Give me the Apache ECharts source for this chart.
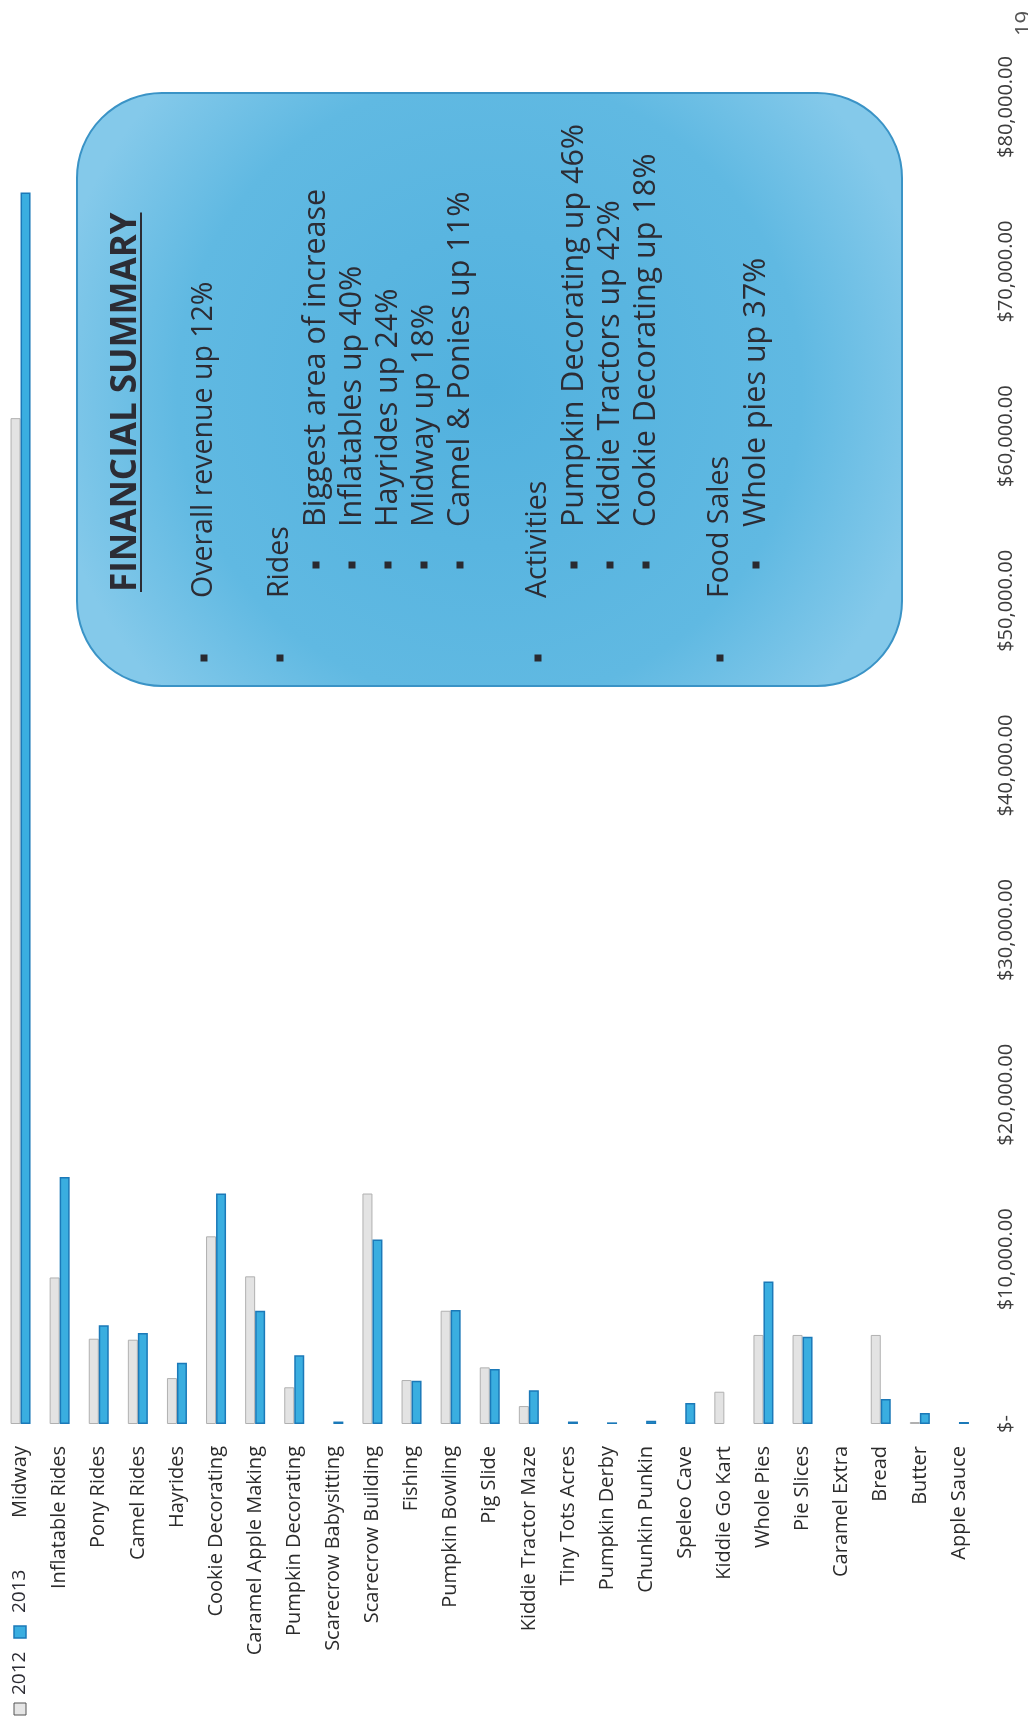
<!DOCTYPE html>
<html>
<head>
<meta charset="utf-8">
<script src="https://cdn.jsdelivr.net/npm/echarts@6/dist/echarts.min.js"></script>
<style>
  html, body { margin: 0; padding: 0; background: #ffffff; }
  #chart { width: 1028px; height: 1720px; }
</style>
</head>
<body>
<div id="chart"></div>
<script>
// Revenue by attraction, 2012 vs 2013
const categories = [
  'Midway', 'Inflatable Rides', 'Pony Rides', 'Camel Rides', 'Hayrides',
  'Cookie Decorating', 'Caramel Apple Making', 'Pumpkin Decorating',
  'Scarecrow Babysitting', 'Scarecrow Building', 'Fishing', 'Pumpkin Bowling',
  'Pig Slide', 'Kiddie Tractor Maze', 'Tiny Tots Acres', 'Pumpkin Derby',
  'Chunkin Punkin', 'Speleo Cave', 'Kiddie Go Kart', 'Whole Pies', 'Pie Slices',
  'Caramel Extra', 'Bread', 'Butter', 'Apple Sauce'
];
const revenue2012 = [
  61100, 8900, 5180, 5120, 2790,
  11400, 8970, 2230,
  0, 14000, 2670, 6880,
  3440, 1090, 0, 0,
  0, 0, 1960, 5410, 5410,
  0, 5410, 120, 0
];
const revenue2013 = [
  74800, 15000, 6000, 5530, 3720,
  14000, 6880, 4170,
  150, 11200, 2630, 6930,
  3340, 2050, 150, 100,
  200, 1280, 0, 8650, 5300,
  0, 1520, 670, 120
];
const seriesNames = ['2012', '2013'];
const valueAxisMin = 0;
const valueAxisMax = 80000;
const valueAxisStep = 10000;

// Summary panel text: [line, indent level]
const summaryTitle = 'FINANCIAL SUMMARY';
const summaryItems = [
  ['Overall revenue up 12%', 0],
  ['Rides', 0],
  ['Biggest area of increase', 1],
  ['Inflatables up 40%', 1],
  ['Hayrides up 24%', 1],
  ['Midway up 18%', 1],
  ['Camel & Ponies up 11%', 1],
  ['Activities', 0],
  ['Pumpkin Decorating up 46%', 1],
  ['Kiddie Tractors up 42%', 1],
  ['Cookie Decorating up 18%', 1],
  ['Food Sales', 0],
  ['Whole pies up 37%', 1]
];
const pageMark = '19';

// ---- layout / styling ----
const FONT = '"Open Sans", "DejaVu Sans", sans-serif';
const TEXT_DARK = '#2c2c34';
const ROT = Math.PI / 2; // text reads bottom-to-top

function moneyLabel(v) {
  if (v === 0) return '$-';
  return '$' + v.toLocaleString('en-US', { minimumFractionDigits: 2, maximumFractionDigits: 2 });
}

function measure(text, font) {
  const c = document.createElement('canvas').getContext('2d');
  c.font = font;
  return c.measureText(text).width;
}

// Summary panel, laid out upright in local coordinates and turned a quarter turn.
const panel = { x: 77, y: 686, w: 593, h: 825, r: 85 };
const rowOffsets = [127, 203, 239, 275, 311, 347, 383, 461, 497, 533, 569, 643, 679];
const indent = [
  { bullet: 28, text: 88, font: '28.5px ' + FONT },
  { bullet: 121, text: 159, font: '30.5px ' + FONT }
];
const titlePos = { u: 94, v: 49 };
const titleFont = 'bold 35px ' + FONT;

const panelChildren = [{
  type: 'rect',
  shape: { x: 0, y: 0, width: panel.w, height: panel.h, r: panel.r },
  style: {
    fill: new echarts.graphic.RadialGradient(0.5, 0.5, 0.75, [
      { offset: 0, color: '#52b1de' },
      { offset: 0.7, color: '#60b9e2' },
      { offset: 1, color: '#84c9ea' }
    ]),
    stroke: '#3a93c6',
    lineWidth: 2
  }
}, {
  type: 'text',
  x: titlePos.u, y: titlePos.v,
  style: {
    text: summaryTitle, font: titleFont, fill: TEXT_DARK,
    textAlign: 'left', textVerticalAlign: 'middle', align: 'left', verticalAlign: 'middle'
  }
}, {
  type: 'line',
  shape: { x1: titlePos.u, y1: titlePos.v + 15, x2: titlePos.u + measure(summaryTitle, titleFont), y2: titlePos.v + 15 },
  style: { stroke: TEXT_DARK, lineWidth: 2 }
}];

summaryItems.forEach(([text, level], i) => {
  const v = rowOffsets[i];
  const ind = indent[level];
  panelChildren.push({
    type: 'rect',
    shape: { x: ind.bullet - 3.5, y: v - 3.5, width: 7, height: 7 },
    style: { fill: '#2a2a30' }
  });
  panelChildren.push({
    type: 'text',
    x: ind.text, y: v,
    style: {
      text: text, font: ind.font, fill: TEXT_DARK,
      textAlign: 'left', textVerticalAlign: 'middle', align: 'left', verticalAlign: 'middle'
    }
  });
});

// Legend, turned the same way as the labels
const legendFont = '19px ' + FONT;
const legendChildren = [
  { type: 'rect', shape: { x: 2, y: -6, width: 12, height: 12 },
    style: { fill: '#e6e6e6', stroke: '#555', lineWidth: 1 } },
  { type: 'text', x: 22, y: 0,
    style: { text: seriesNames[0], font: legendFont, fill: TEXT_DARK,
      textAlign: 'left', textVerticalAlign: 'middle', align: 'left', verticalAlign: 'middle' } },
  { type: 'rect', shape: { x: 79, y: -6, width: 12, height: 12 },
    style: { fill: '#3aaee0', stroke: '#1b79b8', lineWidth: 1.5 } },
  { type: 'text', x: 104, y: 0,
    style: { text: seriesNames[1], font: legendFont, fill: TEXT_DARK,
      textAlign: 'left', textVerticalAlign: 'middle', align: 'left', verticalAlign: 'middle' } }
];

const chart = echarts.init(document.getElementById('chart'), null, { renderer: 'canvas' });

const barData = arr => arr.map(v => (v === 0 ? null : v));

chart.setOption({
  animation: false,
  backgroundColor: '#ffffff',
  grid: { left: 1, right: 49.5, top: 107, bottom: 296, containLabel: false },
  xAxis: {
    type: 'category',
    data: categories,
    axisLine: { show: false },
    axisTick: { show: false },
    axisLabel: {
      rotate: 90, interval: 0, margin: 22,
      fontFamily: FONT, fontSize: 20, color: '#2b2b2b'
    },
    splitLine: { show: false }
  },
  yAxis: {
    type: 'value',
    position: 'right',
    min: valueAxisMin, max: valueAxisMax, interval: valueAxisStep,
    axisLine: { show: false },
    axisTick: { show: false },
    splitLine: { show: false },
    axisLabel: {
      rotate: 90, margin: 18,
      fontFamily: FONT, fontSize: 20, color: '#3c3c3c',
      formatter: moneyLabel
    }
  },
  series: [{
    name: seriesNames[0],
    type: 'bar',
    data: barData(revenue2012),
    barWidth: 10,
    barGap: '0%',
    itemStyle: { color: '#e3e3e3', borderColor: '#b0b0b0', borderWidth: 1 }
  }, {
    name: seriesNames[1],
    type: 'bar',
    data: barData(revenue2013),
    barWidth: 10,
    barGap: '0%',
    itemStyle: { color: '#3aaee0', borderColor: '#1b79b8', borderWidth: 1.5 }
  }],
  graphic: [{
    type: 'group',
    x: panel.x, y: panel.y, rotation: ROT,
    children: panelChildren
  }, {
    type: 'group',
    x: 20, y: 1717, rotation: ROT,
    children: legendChildren
  }, {
    type: 'text',
    x: 1025, y: 36, rotation: ROT,
    style: { text: pageMark, font: '22px ' + FONT, fill: '#555',
      textAlign: 'left', textVerticalAlign: 'middle', align: 'left', verticalAlign: 'middle' }
  }]
});
</script>
</body>
</html>
